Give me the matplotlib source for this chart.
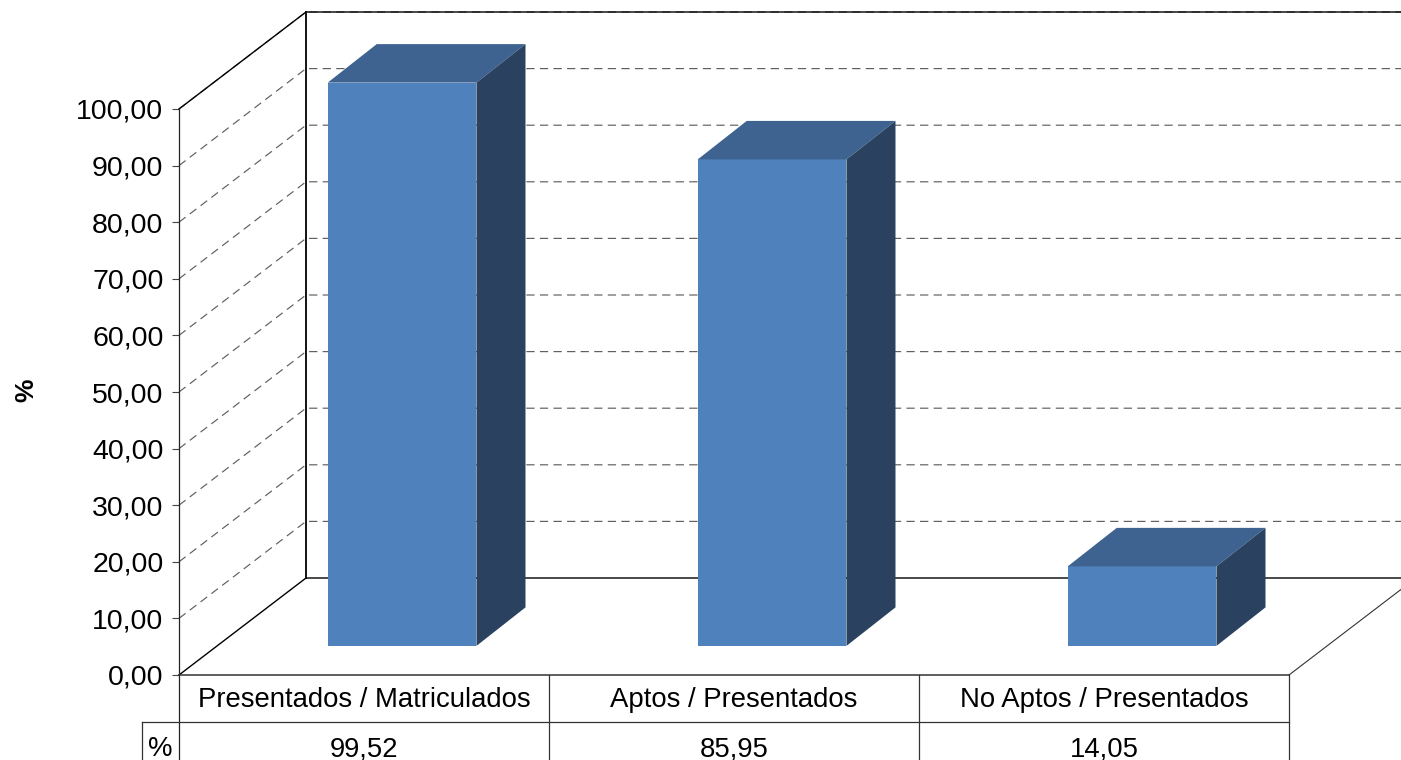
import matplotlib
matplotlib.use("Agg")
import matplotlib.pyplot as plt
from matplotlib.patches import Polygon

categories = ["Presentados / Matriculados", "Aptos / Presentados", "No Aptos / Presentados"]
values = [99.52, 85.95, 14.05]
value_labels = ["99,52", "85,95", "14,05"]
y_ticks = [0, 10, 20, 30, 40, 50, 60, 70, 80, 90, 100]
y_tick_labels = ["0,00", "10,00", "20,00", "30,00", "40,00", "50,00", "60,00", "70,00", "80,00", "90,00", "100,00"]

W, H = 1401, 760
X0, PX_CAT = 179.0, 370.0      # px of category origin, px per category
Y0, PX_VAL = 675.0, 5.66       # px of value zero, px per value unit
DX = 127.0 / PX_CAT            # 3-D depth in data units
DY = 97.0 / PX_VAL
FS_TICK, FS_TAB = 20.5, 19.8
INK = "#000000"
GRID = "#5f5f5f"
FRONT, TOP, SIDE = "#4F81BD", "#3E6390", "#2A425F"

plt.rcParams["font.family"] = ["Liberation Sans", "DejaVu Sans"]
fig = plt.figure(figsize=(W / 100, H / 100), dpi=100, facecolor="white")
ax = fig.add_axes([0, 0, 1, 1])
ax.set_xlim(-X0 / PX_CAT, (W - X0) / PX_CAT)
ax.set_ylim(-(H - Y0) / PX_VAL, Y0 / PX_VAL)
ax.patch.set_visible(False)
for name in ("top", "right", "bottom"):
    ax.spines[name].set_visible(False)
ax.spines["left"].set_position(("data", 0))
ax.spines["left"].set_bounds(-(H - Y0) / PX_VAL, 100)
ax.spines["left"].set_linewidth(0.9)
ax.spines["left"].set_color("#222222")
ax.set_xticks([])
ax.set_yticks(y_ticks, y_tick_labels, fontsize=FS_TICK)
ax.tick_params(axis="y", length=5.2, width=0.8, color="#444444", pad=6)

n = len(categories)
# Gridlines on side and back walls
for v in y_ticks[1:]:
    ax.plot([0, DX, n + DX], [v, v + DY, v + DY], color=GRID, lw=0.85, dashes=(7, 4.5), zorder=1)
# Walls and floor
ax.plot([0, DX, n + DX], [100, 100 + DY, 100 + DY], color=INK, lw=1.0, zorder=2)
ax.plot([0, DX, n + DX], [0, DY, DY], color=INK, lw=1.0, zorder=2)
ax.plot([DX, DX], [DY, 100 + DY], color=INK, lw=1.3, zorder=2)
ax.plot([n, n + DX], [0, DY], color="#333333", lw=0.8, zorder=2)

# 3-D bars
BAR_W, NEAR, DEPTH_X, DEPTH_Y = 0.402, 0.30, 0.386, 0.397
for i, v in enumerate(values):
    xl = i + 0.5 - BAR_W / 2 + NEAR * DX
    xr = xl + BAR_W
    yb = NEAR * DY
    yt = v + NEAR * DY
    ox, oy = DEPTH_X * DX, DEPTH_Y * DY
    ax.add_patch(Polygon([(xl, yb), (xr, yb), (xr, yt), (xl, yt)], fc=FRONT, ec="none", zorder=5))
    ax.add_patch(Polygon([(xl, yt), (xr, yt), (xr + ox, yt + oy), (xl + ox, yt + oy)], fc=TOP, ec="none", zorder=5))
    ax.add_patch(Polygon([(xr, yb), (xr + ox, yb + oy), (xr + ox, yt + oy), (xr, yt)], fc=SIDE, ec="none", zorder=5))

# Data table
row1 = -(722 - Y0) / PX_VAL
bottom = -(H - Y0) / PX_VAL
left = -(179 - 142) / PX_CAT
ax.plot([0, n], [0, 0], color="#333333", lw=1.1, zorder=6)
ax.plot([left, n], [row1, row1], color="#333333", lw=0.9, zorder=6)
ax.plot([left, left], [row1, bottom], color="#333333", lw=0.9, zorder=6)
for i in range(1, n + 1):
    ax.plot([i, i], [0, bottom], color="#333333", lw=0.9, zorder=6)
for i in range(n):
    ax.text(i + 0.5, row1 / 2 - 0.3, categories[i], ha="center", va="center", fontsize=FS_TAB, zorder=7)
    ax.text(i + 0.5, row1 - 4.8, value_labels[i], ha="center", va="center", fontsize=FS_TAB, zorder=7)
ax.text(left / 2, row1 - 4.8, "%", ha="center", va="center", fontsize=FS_TAB, zorder=7)

# Axis title
ax.text(-(179 - 26) / PX_CAT, (Y0 - 390) / PX_VAL, "%", rotation=90, ha="center", va="center",
        fontsize=19, fontweight="bold")

fig.savefig("out.png", dpi=100, facecolor="white")
